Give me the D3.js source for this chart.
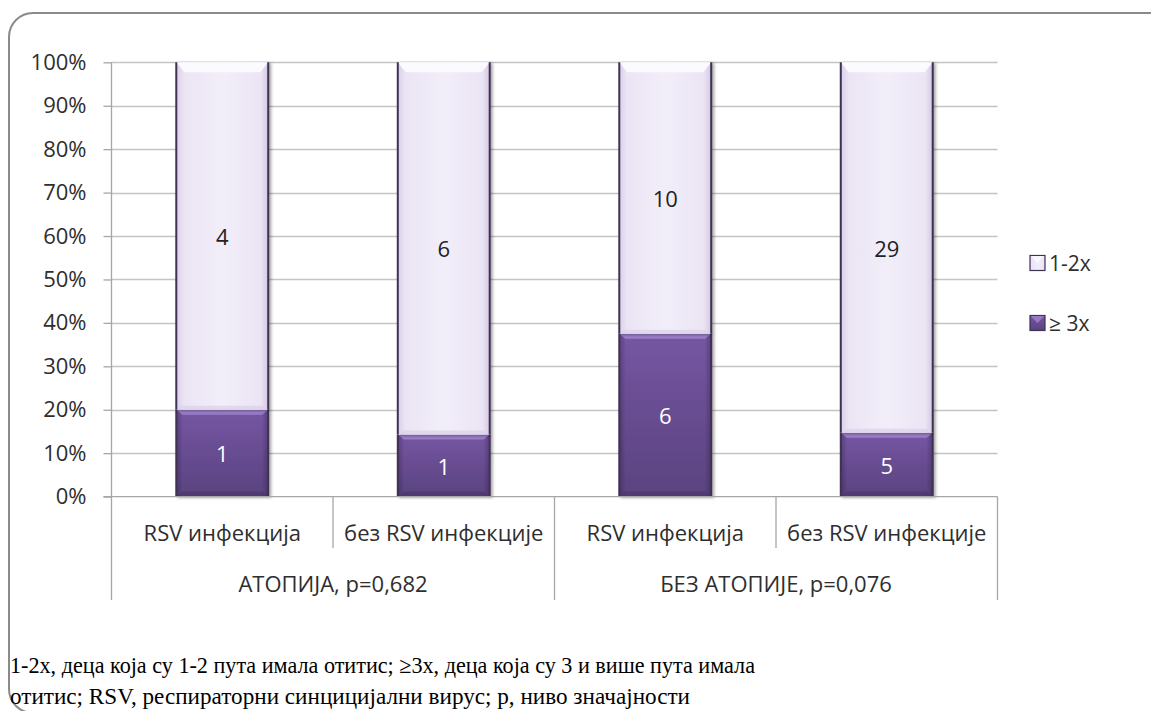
<!DOCTYPE html>
<html><head><meta charset="utf-8">
<script src="https://cdn.jsdelivr.net/npm/d3@7"></script>
<style>
html,body{margin:0;padding:0;background:#fff;}
svg{display:block;}
</style></head>
<body>
<svg id="chart" width="1151" height="711"></svg>
<script>
// ---- data ----
const subCategories = ["RSV инфекција", "без RSV инфекције", "RSV инфекција", "без RSV инфекције"];
const groupLabels = ["АТОПИЈА, p=0,682", "БЕЗ АТОПИЈЕ, p=0,076"];
const categoryGroup = [0, 0, 1, 1];
const seriesNames = ["≥ 3x", "1-2x"];
const valuesGe3x = [1, 1, 6, 5];
const values1to2x = [4, 6, 10, 29];
const yTickValues = [0, 0.1, 0.2, 0.3, 0.4, 0.5, 0.6, 0.7, 0.8, 0.9, 1.0];
const footnoteLines = [
  "1-2x, деца која су 1-2 пута имала отитис; ≥3x, деца која су 3 и више пута имала",
  "отитис; RSV, респираторни синцицијални вирус; p, ниво значајности"
];

// ---- layout ----
const svg = d3.select("#chart");
const plotLeft = 111.5, plotRight = 997.5, plotTop = 62.3, plotBottom = 496.6;
const font = "'Open Sans', 'Noto Sans', sans-serif";
const fs = 22;
const textColor = "#2e2e2e";

const rows = subCategories.map((c, i) => ({ idx: i, ge3: valuesGe3x[i], low: values1to2x[i] }));
const stack = d3.stack().keys(["ge3", "low"]).offset(d3.stackOffsetExpand);
const stacked = stack(rows);

const x = d3.scaleBand().domain(d3.range(subCategories.length))
  .range([plotLeft, plotRight]).paddingInner(0.585).paddingOuter(0.2925);
const step = x.step();
const y = d3.scaleLinear().domain([0, 1]).range([plotBottom, plotTop]);

// defs
const defs = svg.append("defs");
function hGrad(id, stops) {
  const g = defs.append("linearGradient").attr("id", id).attr("x1", 0).attr("x2", 1).attr("y1", 0).attr("y2", 0);
  stops.forEach(s => g.append("stop").attr("offset", s[0]).attr("stop-color", s[1]));
}
function vGrad(id, stops) {
  const g = defs.append("linearGradient").attr("id", id).attr("x1", 0).attr("x2", 0).attr("y1", 0).attr("y2", 1);
  stops.forEach(s => g.append("stop").attr("offset", s[0]).attr("stop-color", s[1]));
}
hGrad("gLight", [[0, "#d9cfe8"], [0.08, "#ebe4f4"], [0.5, "#f2eef9"], [0.92, "#ebe4f4"], [1, "#d3c8e2"]]);
vGrad("gDark", [[0, "#7556a2"], [1, "#5a4380"]]);
hGrad("gDarkEdge", [[0, "rgba(40,25,60,0.35)"], [0.07, "rgba(40,25,60,0)"], [0.93, "rgba(40,25,60,0)"], [1, "rgba(40,25,60,0.35)"]]);
const filt = defs.append("filter").attr("id", "shadow").attr("x", "-20%").attr("y", "-5%").attr("width", "140%").attr("height", "110%");
filt.append("feDropShadow").attr("dx", 2).attr("dy", 1).attr("stdDeviation", 1.5).attr("flood-color", "#000").attr("flood-opacity", 0.35);

// border
svg.append("rect").attr("x", 9).attr("y", 13).attr("width", 1165).attr("height", 700)
  .attr("rx", 24).attr("ry", 24).attr("fill", "none").attr("stroke", "#8a8a8a").attr("stroke-width", 2);

// gridlines
svg.append("g").selectAll("line").data(yTickValues.filter(d => d > 0)).join("line")
  .attr("x1", plotLeft).attr("x2", plotRight)
  .attr("y1", d => Math.round(y(d)) + 0.5).attr("y2", d => Math.round(y(d)) + 0.5)
  .attr("stroke", "#c4c4c4").attr("stroke-width", 1.3);

// y axis
const yAxis = d3.axisLeft(y).tickValues(yTickValues).tickFormat(d3.format(".0%")).tickSize(8).tickPadding(17);
const gy = svg.append("g").attr("transform", `translate(${plotLeft},0)`).call(yAxis);
gy.select(".domain").attr("stroke", "#a6a6a6").attr("stroke-width", 1.3).attr("d", `M0,${plotTop}V${plotBottom}`);
gy.selectAll(".tick line").attr("stroke", "#a6a6a6").attr("stroke-width", 1.3);
gy.selectAll(".tick text").attr("font-family", font).attr("font-size", fs).attr("fill", textColor);

// bars
const barG = svg.append("g");
stacked.forEach(layer => {
  const isDark = layer.key === "ge3";
  layer.forEach((seg, i) => {
    const x0 = x(i), w = x.bandwidth();
    const yTop = y(seg[1]), yBot = y(seg[0]);
    const h = yBot - yTop;
    const g = barG.append("g").attr("filter", "url(#shadow)");
    g.append("rect").attr("x", x0).attr("y", yTop).attr("width", w).attr("height", h)
      .attr("fill", isDark ? "url(#gDark)" : "url(#gLight)");
    if (isDark) {
      g.append("rect").attr("x", x0).attr("y", yTop).attr("width", w).attr("height", h).attr("fill", "url(#gDarkEdge)");
      g.append("path").attr("d", `M${x0},${yTop}H${x0 + w}L${x0 + w - 6},${yTop + 5}H${x0 + 6}Z`).attr("fill", "#a184cf").attr("opacity", 0.85);
      g.append("path").attr("d", `M${x0},${yBot}H${x0 + w}L${x0 + w - 6},${yBot - 5}H${x0 + 6}Z`).attr("fill", "#4a3668").attr("opacity", 0.6);
    } else {
      g.append("path").attr("d", `M${x0},${yTop}H${x0 + w}L${x0 + w - 8},${yTop + 10}H${x0 + 8}Z`).attr("fill", "#fbfaff");
      g.append("path").attr("d", `M${x0},${yBot}H${x0 + w}L${x0 + w - 5},${yBot - 4}H${x0 + 5}Z`).attr("fill", "#ddd3ea").attr("opacity", 0.8);
    }
    g.append("line").attr("x1", x0).attr("x2", x0).attr("y1", yTop).attr("y2", yBot).attr("stroke", "#3f3153").attr("stroke-width", 2);
    g.append("line").attr("x1", x0 + w).attr("x2", x0 + w).attr("y1", yTop).attr("y2", yBot).attr("stroke", "#3f3153").attr("stroke-width", 2);
    barG.append("text").attr("x", x0 + w / 2).attr("y", (yTop + yBot) / 2)
      .attr("text-anchor", "middle").attr("dominant-baseline", "central")
      .attr("font-family", font).attr("font-size", fs)
      .attr("fill", isDark ? "#ffffff" : "#222222")
      .text(isDark ? valuesGe3x[i] : values1to2x[i]);
  });
});

// category axis baseline
svg.append("line").attr("x1", plotLeft - 8).attr("x2", plotRight)
  .attr("y1", plotBottom).attr("y2", plotBottom).attr("stroke", "#a6a6a6").attr("stroke-width", 1.3);

// category separators
const sepG = svg.append("g");
d3.range(subCategories.length + 1).forEach(k => {
  const xx = plotLeft + k * step;
  const isGroupEdge = k === 0 || k === subCategories.length || categoryGroup[k] !== categoryGroup[k - 1];
  sepG.append("line").attr("x1", xx).attr("x2", xx).attr("y1", plotBottom)
    .attr("y2", isGroupEdge ? 600 : 548).attr("stroke", "#a6a6a6").attr("stroke-width", 1.3);
});

// sub-category labels
svg.append("g").selectAll("text").data(subCategories).join("text")
  .attr("x", (d, i) => x(i) + x.bandwidth() / 2).attr("y", 532)
  .attr("text-anchor", "middle").attr("dominant-baseline", "central")
  .attr("font-family", font).attr("font-size", fs).attr("fill", textColor)
  .text(d => d);

// group labels
svg.append("g").selectAll("text").data(groupLabels).join("text")
  .attr("x", (d, gi) => {
    const idxs = d3.range(subCategories.length).filter(i => categoryGroup[i] === gi);
    return (x(idxs[0]) + x(idxs[idxs.length - 1]) + x.bandwidth()) / 2;
  })
  .attr("y", 583).attr("text-anchor", "middle").attr("dominant-baseline", "central")
  .attr("font-family", font).attr("font-size", fs).attr("fill", textColor)
  .text(d => d);

// legend
const legendItems = [
  { name: seriesNames[1], fill: "url(#gLight)", bevel: "#fbfaff", cy: 263 },
  { name: seriesNames[0], fill: "url(#gDark)", bevel: "#a184cf", cy: 323 }
];
const lg = svg.append("g");
legendItems.forEach(it => {
  lg.append("rect").attr("x", 1030).attr("y", it.cy - 7.5).attr("width", 15).attr("height", 15)
    .attr("fill", it.fill).attr("stroke", "#3f3153").attr("stroke-width", 1.2);
  lg.append("path").attr("d", `M1030.6,${it.cy - 6.9}H1044.4L1037.5,${it.cy}Z`).attr("fill", it.bevel).attr("opacity", 0.8);
  lg.append("text").attr("x", 1049).attr("y", it.cy).attr("dominant-baseline", "central")
    .attr("font-family", font).attr("font-size", 21).attr("fill", textColor).text(it.name);
});

// footnote
const fn = svg.append("g");
const fnWidths = [745, 680];
footnoteLines.forEach((t, i) => {
  fn.append("text").attr("x", 10).attr("y", 673 + i * 31)
    .attr("font-family", "'Liberation Serif', 'Times New Roman', serif").attr("font-size", 23)
    .attr("fill", "#000").attr("textLength", fnWidths[i]).attr("lengthAdjust", "spacingAndGlyphs")
    .text(t);
});
</script>
</body></html>
